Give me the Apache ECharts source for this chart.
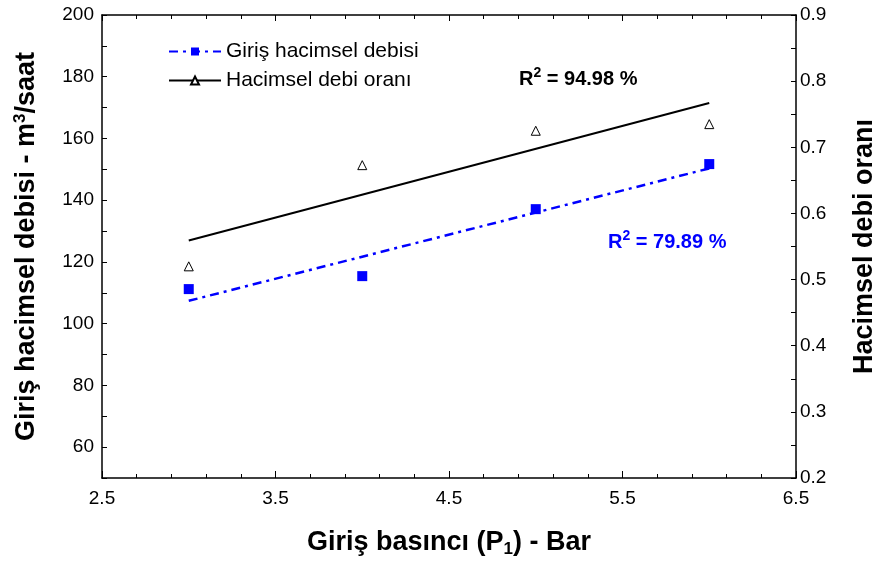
<!DOCTYPE html>
<html><head><meta charset="utf-8">
<script src="https://cdn.jsdelivr.net/npm/echarts@6/dist/echarts.min.js"></script>
<style>html,body{margin:0;padding:0;background:#fff}#c{width:878px;height:565px}</style>
</head><body><div id="c"></div>
<script>
const pressure = [3, 4, 5, 6];
const inletFlow = [111.2, 115.4, 137.1, 151.7];
const flowRatio = [0.52, 0.673, 0.725, 0.735];
const fitX = [3, 6];
const inletFit = [107.4, 150.3];
const ratioFit = [0.559, 0.767];
const r2Ratio = '94.98 %';
const r2Inlet = '79.89 %';

const FONT = 'Arial, "Liberation Sans", sans-serif';
const chart = echarts.init(document.getElementById('c'));
const tickInside = {show: true, inside: true, length: 6, lineStyle: {color: '#000', width: 1}};
const minorInside = {show: true, length: 3, lineStyle: {color: '#000', width: 1}};
const axLine = {show: true, onZero: false, lineStyle: {color: '#000', width: 1.5}};
const lbl = {color: '#000', fontSize: 19, fontFamily: FONT};
const titleRich = (color) => ({
  a: {fontSize: 27, fontWeight: 'bold', fontFamily: FONT, color: color, lineHeight: 30},
  sup: {fontSize: 17, fontWeight: 'bold', fontFamily: FONT, color: color, lineHeight: 17, verticalAlign: 'top'},
  sub: {fontSize: 17, fontWeight: 'bold', fontFamily: FONT, color: color, lineHeight: 17, verticalAlign: 'bottom'}
});

chart.setOption({
  animation: false,
  grid: {left: 102, right: 82, top: 15, bottom: 87, containLabel: false, outerBoundsMode: 'none'},
  legend: {
    orient: 'vertical', left: 163, top: 36, itemWidth: 52, itemHeight: 10, itemGap: 8,
    textStyle: {fontSize: 21, color: '#000', fontFamily: FONT},
    data: ['Giriş hacimsel debisi', 'Hacimsel debi oranı']
  },
  xAxis: [{
    type: 'value', min: 2.5, max: 6.5, interval: 1, position: 'bottom',
    axisLine: axLine, axisTick: Object.assign({}, tickInside, {length: 7}),
    minorTick: Object.assign({}, minorInside, {splitNumber: 5, length: 4}),
    splitLine: {show: false}, minorSplitLine: {show: false},
    axisLabel: Object.assign({}, lbl, {margin: 11, formatter: v => v.toFixed(1)}),
    name: '{a|Giriş basıncı (P}{sub|1}{a|) - Bar}', nameLocation: 'middle', nameGap: 50,
    nameTextStyle: {rich: titleRich('#000')}
  }, {
    type: 'value', min: 2.5, max: 6.5, interval: 1, position: 'top',
    axisLine: axLine, axisTick: Object.assign({}, tickInside, {length: 6}),
    minorTick: Object.assign({}, minorInside, {splitNumber: 5, length: 4}),
    splitLine: {show: false}, axisLabel: {show: false}
  }],
  yAxis: [{
    type: 'value', min: 50, max: 200, interval: 10, position: 'left',
    axisLine: axLine, axisTick: Object.assign({}, tickInside, {length: 5}),
    splitLine: {show: false},
    axisLabel: Object.assign({}, lbl, {margin: 8, formatter: v => (v % 20 === 0 ? String(v) : '')}),
    name: '{a|Giriş hacimsel debisi - m}{sup|3}{a|/saat}', nameLocation: 'middle', nameGap: 60,
    nameTextStyle: {rich: titleRich('#000')}
  }, {
    type: 'value', min: 0.2, max: 0.9, interval: 0.1, position: 'right',
    axisLine: axLine, axisTick: Object.assign({}, tickInside, {length: 5}),
    minorTick: Object.assign({}, minorInside, {splitNumber: 2, length: 5}),
    splitLine: {show: false},
    axisLabel: Object.assign({}, lbl, {margin: 4, formatter: v => v.toFixed(1)}),
    name: 'Hacimsel debi oranı', nameLocation: 'middle', nameGap: 55, nameRotate: 90,
    nameTextStyle: {fontSize: 27, fontWeight: 'bold', fontFamily: FONT, color: '#000'}
  }],
  series: [{
    name: 'Giriş hacimsel debisi', type: 'line', xAxisIndex: 0, yAxisIndex: 0,
    data: fitX.map((x, i) => [x, inletFit[i]]),
    symbol: 'rect', symbolSize: 9, showSymbol: false,
    itemStyle: {color: '#0000ff'},
    lineStyle: {color: '#0000ff', width: 2.5, type: [9, 5, 3, 5]}
  }, {
    name: 'Hacimsel debi oranı', type: 'line', xAxisIndex: 0, yAxisIndex: 1,
    data: fitX.map((x, i) => [x, ratioFit[i]]),
    symbol: 'emptyTriangle', symbolSize: 9, showSymbol: false,
    itemStyle: {color: '#000'},
    lineStyle: {color: '#000', width: 2}
  }, {
    name: 'inletPts', type: 'scatter', xAxisIndex: 0, yAxisIndex: 0,
    data: pressure.map((x, i) => [x, inletFlow[i]]),
    symbol: 'rect', symbolSize: 10, itemStyle: {color: '#0000ff', opacity: 1}
  }, {
    name: 'ratioPts', type: 'scatter', xAxisIndex: 0, yAxisIndex: 1,
    data: pressure.map((x, i) => [x, flowRatio[i]]),
    symbol: 'triangle', symbolSize: 9,
    itemStyle: {color: '#fff', borderColor: '#000', borderWidth: 1, opacity: 1}
  }],
  graphic: [{
    type: 'text', left: 519, top: 66,
    style: {
      text: '{a|R}{s|2}{a| = ' + r2Ratio + '}',
      rich: {
        a: {fontSize: 20, fontWeight: 'bold', fontFamily: FONT, fill: '#000', lineHeight: 26},
        s: {fontSize: 14, fontWeight: 'bold', fontFamily: FONT, fill: '#000', lineHeight: 14, verticalAlign: 'top'}
      }
    }
  }, {
    type: 'text', left: 608, top: 229,
    style: {
      text: '{a|R}{s|2}{a| = ' + r2Inlet + '}',
      rich: {
        a: {fontSize: 20, fontWeight: 'bold', fontFamily: FONT, fill: '#0000ff', lineHeight: 26},
        s: {fontSize: 14, fontWeight: 'bold', fontFamily: FONT, fill: '#0000ff', lineHeight: 14, verticalAlign: 'top'}
      }
    }
  }]
});
</script></body></html>
